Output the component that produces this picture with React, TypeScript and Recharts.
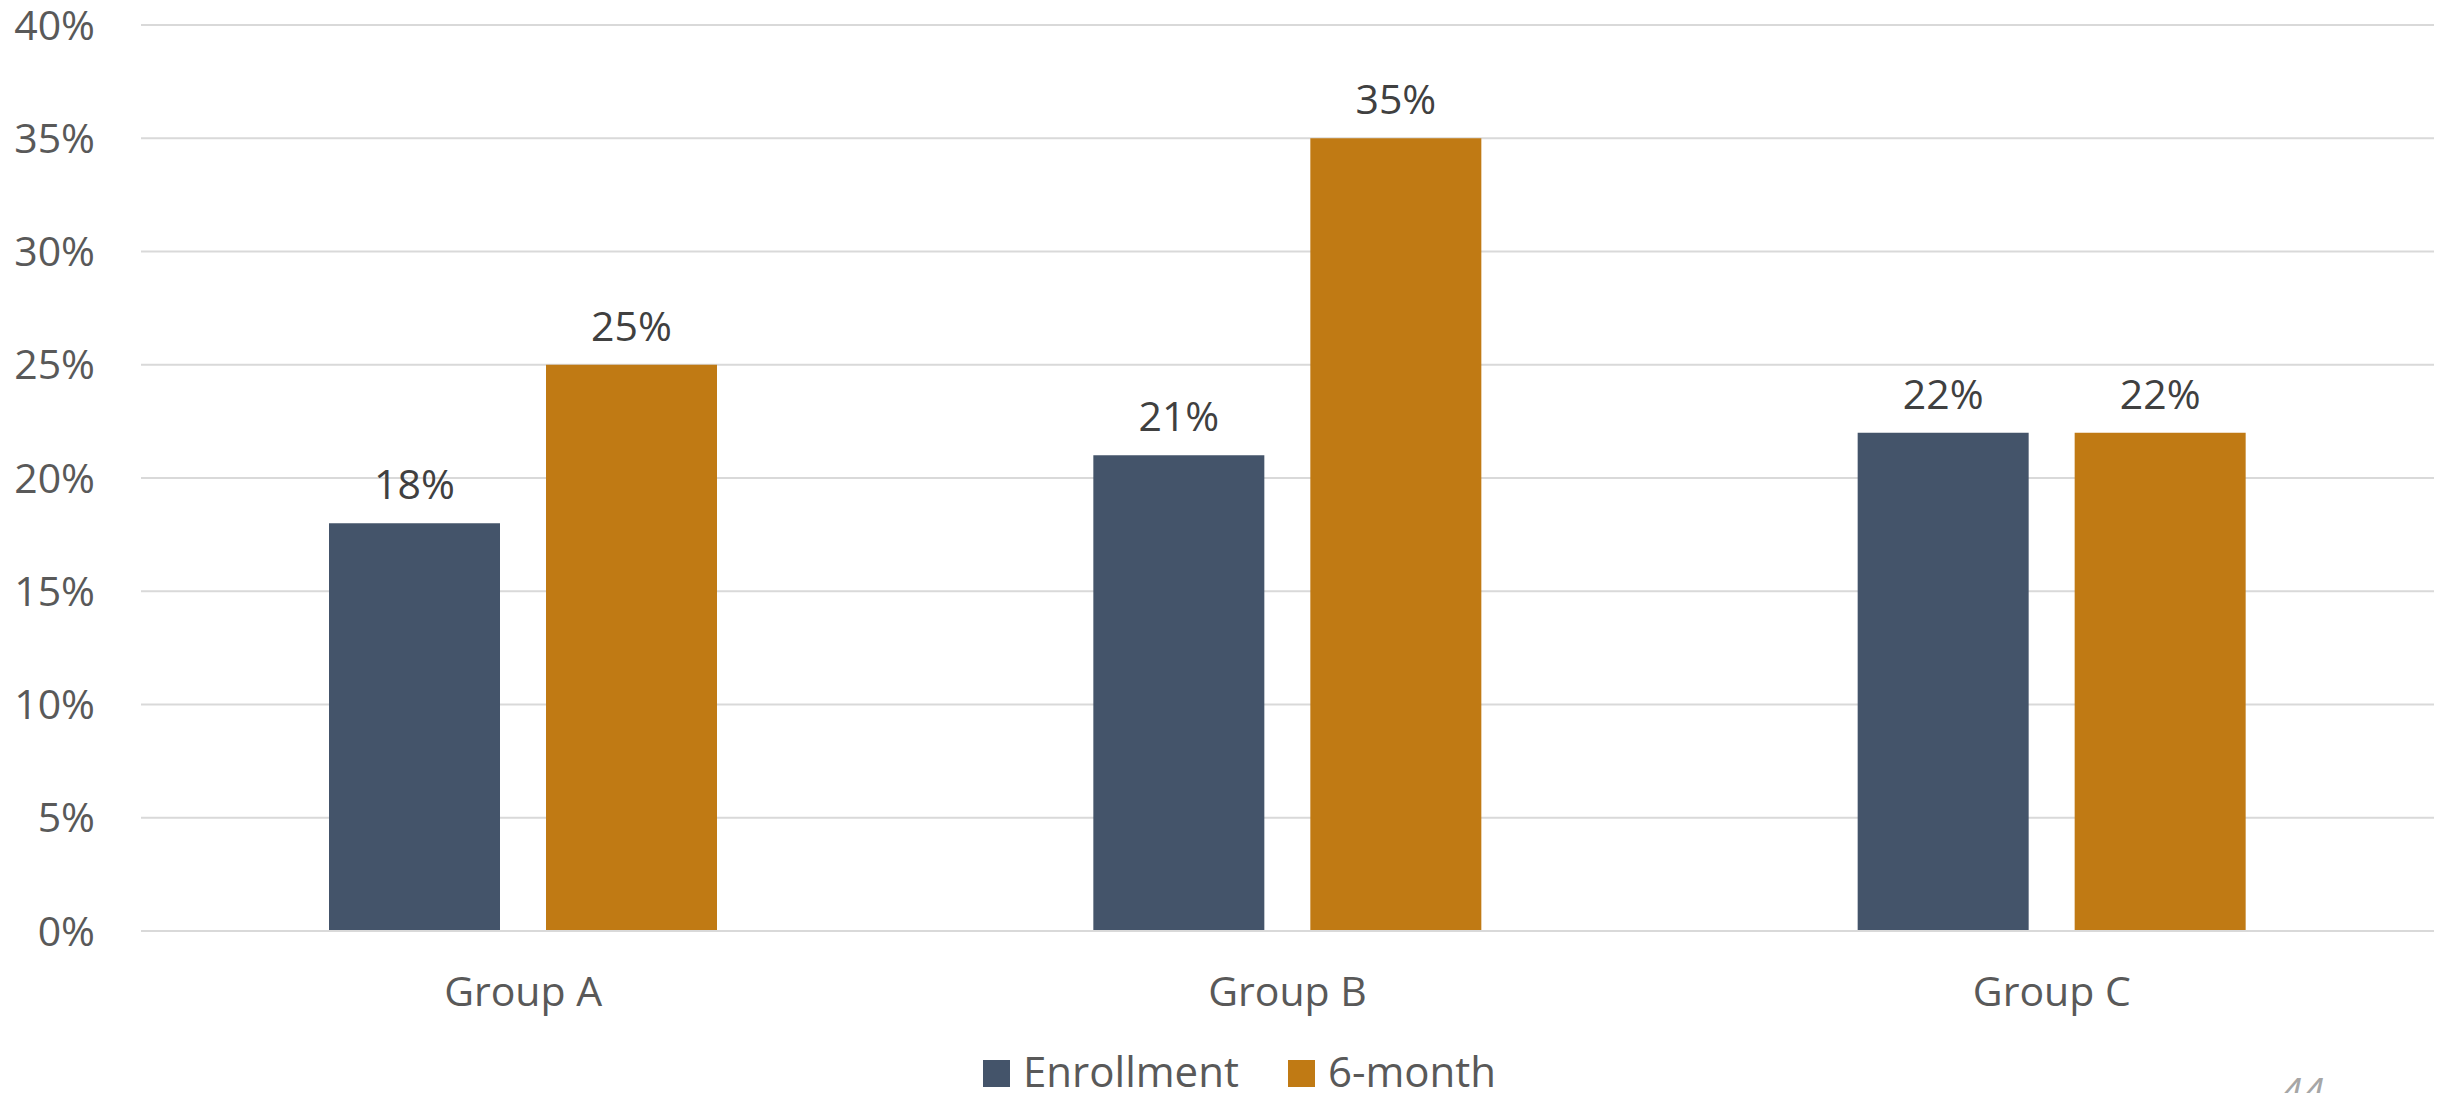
import { BarChart, Bar, XAxis, YAxis, CartesianGrid, Legend, LabelList } from 'recharts';

const groups = ['Group A', 'Group B', 'Group C'];
const enrollment = [18, 21, 22];
const sixMonth = [25, 35, 22];
const yTicks = [0, 5, 10, 15, 20, 25, 30, 35, 40];

const BLUE = '#44546A';
const ORANGE = '#C07A14';
const FONT = "'Open Sans', sans-serif";

const data = groups.map((g, i) => ({ group: g, enrollment: enrollment[i], sixMonth: sixMonth[i] }));

function LegendContent() {
  const items = [
    { label: 'Enrollment', color: BLUE },
    { label: '6-month', color: ORANGE },
  ];
  return (
    <div style={{ fontSize: 42, lineHeight: 1, color: '#595959', whiteSpace: 'nowrap' }}>
      {items.map((it, i) => (
        <span key={it.label} style={{ marginLeft: i === 0 ? 0 : 49 }}>
          <span
            style={{ display: 'inline-block', width: 27, height: 27, background: it.color, marginRight: 13 }}
          />
          {it.label}
        </span>
      ))}
    </div>
  );
}

export default function App() {
  return (
    <div
      style={{
        position: 'absolute',
        left: 0,
        top: 0,
        width: 2453,
        height: 1093,
        overflow: 'hidden',
        background: '#fff',
        fontFamily: FONT,
      }}
    >
      <BarChart
        width={2453}
        height={1093}
        data={data}
        margin={{ top: 25, right: 19, left: 0, bottom: 0 }}
        barSize={171}
        barGap={46}
      >
        <CartesianGrid vertical={false} stroke="#d9d9d9" strokeWidth={2} />
        <XAxis
          dataKey="group"
          height={100}
          tickSize={0}
          tickMargin={46}
          axisLine={{ stroke: '#d9d9d9', strokeWidth: 2 }}
          tick={{ fill: '#595959', fontSize: 41 }}
        />
        <YAxis
          width={141}
          domain={[0, 40]}
          ticks={yTicks}
          tickFormatter={(v: number) => `${v}%`}
          tickSize={0}
          tickMargin={46}
          axisLine={false}
          tick={{ fill: '#595959', fontSize: 41 }}
          interval={0}
        />
        <Legend
          content={LegendContent}
          wrapperStyle={{ top: 1050, left: 983, width: 700, height: 62 }}
        />
        <Bar dataKey="enrollment" name="Enrollment" fill={BLUE} isAnimationActive={false}>
          <LabelList
            dataKey="enrollment"
            position="top"
            offset={24}
            formatter={(v: number) => `${v}%`}
            style={{ fill: '#404040', fontSize: 41 }}
          />
        </Bar>
        <Bar dataKey="sixMonth" name="6-month" fill={ORANGE} isAnimationActive={false}>
          <LabelList
            dataKey="sixMonth"
            position="top"
            offset={24}
            formatter={(v: number) => `${v}%`}
            style={{ fill: '#404040', fontSize: 41 }}
          />
        </Bar>
      </BarChart>
      <div
        style={{
          position: 'absolute',
          left: 2280,
          top: 1072,
          fontSize: 40,
          fontStyle: 'italic',
          color: '#a6a6a6',
          lineHeight: 1,
        }}
      >
        44
      </div>
    </div>
  );
}
